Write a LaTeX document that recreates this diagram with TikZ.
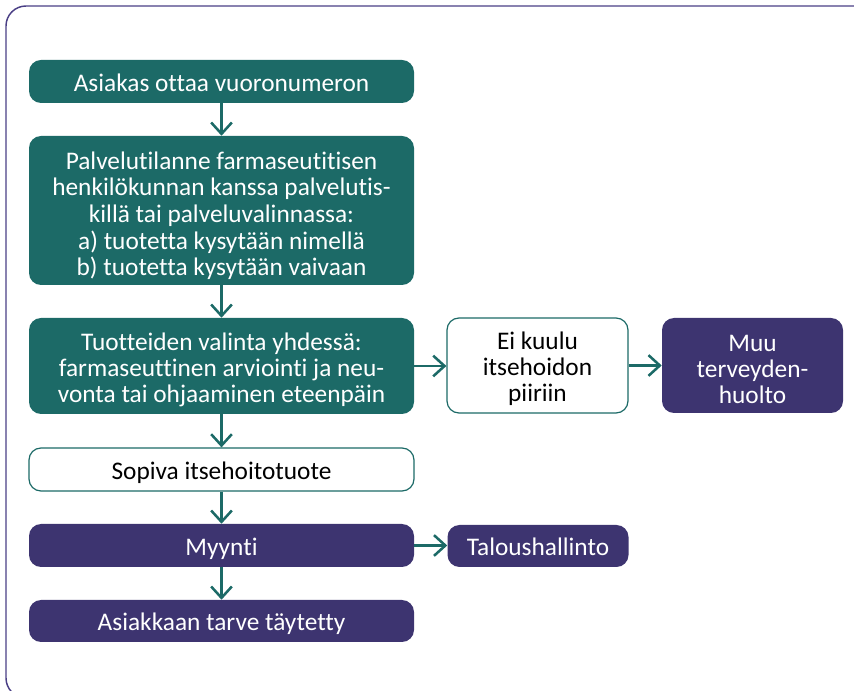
\documentclass[tikz,border=0pt]{standalone}
\usepackage{fontspec}
\setmainfont{Carlito}[Ligatures={NoCommon}]
\usetikzlibrary{arrows.meta}
\definecolor{teal1}{HTML}{1C6A67}
\definecolor{purp1}{HTML}{3D3470}
\definecolor{frame1}{HTML}{4A3F85}
\newcommand\topstrut[1]{\rule{0pt}{#1}}
\begin{document}
\begin{tikzpicture}[x=0.75pt,y=-0.75pt,
  base/.style={rectangle,rounded corners=9pt,inner sep=0pt,align=center,
    font=\fontsize{19}{19.4}\selectfont},
  oneline/.style={text height=15.4pt,text depth=1pt},
  tealbox/.style={base,fill=teal1,text=white},
  purpbox/.style={base,fill=purp1,text=white},
  whitebox/.style={base,fill=white,draw=teal1,line width=0.9pt,text=black},
  arr/.style={draw=teal1,line width=1.9pt,-{Straight Barb[length=8.5pt,width=15.5pt,line width=1.9pt]}},
  wide/.style={minimum width=288.75pt},
  small/.style={minimum width=135.75pt}]
\useasboundingbox (0,0) rectangle (854,691);
\draw[frame1,line width=1.1pt,rounded corners=15pt] (6,6) rectangle (900,698);

\node[tealbox,wide,oneline,minimum height=32.25pt] (b1) at (221.5,81.5) {Asiakas ottaa vuoronumeron};
\node[tealbox,wide,minimum height=111.75pt,font=\fontsize{19}{20}\selectfont] (b2) at (221.5,210.5)
  {\topstrut{21pt}Palvelutilanne farmaseutitisen\\henkilökunnan kanssa palvelutis-\\killä tai palveluvalinnassa:\\a) tuotetta kysytään nimellä\\b) tuotetta kysytään vaivaan};
\node[tealbox,wide,minimum height=72pt] (b3) at (221.5,366)
  {\topstrut{18.5pt}Tuotteiden valinta yhdessä:\\farmaseuttinen arviointi ja neu-\\vonta tai ohjaaminen eteenpäin};
\node[whitebox,small,minimum height=71.25pt] (b4) at (537.5,365.5) {\topstrut{18.5pt}Ei kuulu\\itsehoidon\\piiriin};
\node[purpbox,small,minimum height=71.25pt] (b5) at (752.5,365.5) {\topstrut{18.5pt}Muu\\terveyden-\\huolto};
\node[whitebox,wide,oneline,minimum height=32.25pt] (b6) at (221.5,469.5) {Sopiva itsehoitotuote};
\node[purpbox,wide,oneline,minimum height=32.25pt] (b7) at (221.5,545.5) {Myynti};
\node[purpbox,small,oneline,minimum height=31.5pt] (b9) at (538,546) {Taloushallinto};
\node[purpbox,wide,oneline,minimum height=31.5pt] (b8) at (221.5,621) {Asiakkaan tarve täytetty};

\draw[arr] (b1) -- (b2);
\draw[arr] (b2) -- (b3);
\draw[arr] (b3) -- (b6);
\draw[arr] (b6) -- (b7);
\draw[arr] (b7) -- (b8);
\draw[arr] (b3.east) -- (b4.west|-b3.east);
\draw[arr] (b4) -- (b5);
\draw[arr] (b7.east) -- (b9.west|-b7.east);
\end{tikzpicture}
\end{document}
